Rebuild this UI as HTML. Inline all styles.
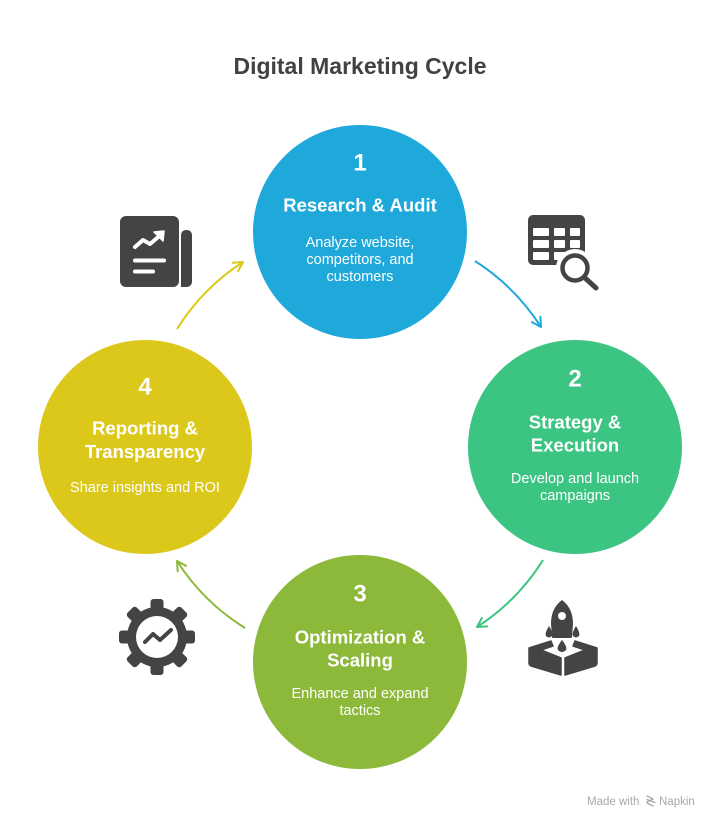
<!DOCTYPE html>
<html>
<head>
<meta charset="utf-8">
<style>
  html,body{margin:0;padding:0;background:#fff;}
  body{width:720px;height:828px;overflow:hidden;}
  svg{display:block;}
  text{font-family:"Liberation Sans", Arial, sans-serif;}
</style>
</head>
<body>
<svg width="720" height="828" viewBox="0 0 720 828" xmlns="http://www.w3.org/2000/svg">
  <defs>
    <marker id="mb" viewBox="0 0 12 12" refX="10" refY="6" markerWidth="12" markerHeight="12" markerUnits="userSpaceOnUse" orient="auto">
      <path d="M1,1 L10,6 L1,11" fill="none" stroke="#1FA9DA" stroke-width="2" stroke-linecap="round" stroke-linejoin="round"/>
    </marker>
    <marker id="mg" viewBox="0 0 12 12" refX="10" refY="6" markerWidth="12" markerHeight="12" markerUnits="userSpaceOnUse" orient="auto">
      <path d="M1,1 L10,6 L1,11" fill="none" stroke="#3CC483" stroke-width="2" stroke-linecap="round" stroke-linejoin="round"/>
    </marker>
    <marker id="mo" viewBox="0 0 12 12" refX="10" refY="6" markerWidth="12" markerHeight="12" markerUnits="userSpaceOnUse" orient="auto">
      <path d="M1,1 L10,6 L1,11" fill="none" stroke="#8CB93A" stroke-width="2" stroke-linecap="round" stroke-linejoin="round"/>
    </marker>
    <marker id="my" viewBox="0 0 12 12" refX="10" refY="6" markerWidth="12" markerHeight="12" markerUnits="userSpaceOnUse" orient="auto">
      <path d="M1,1 L10,6 L1,11" fill="none" stroke="#DCC81A" stroke-width="2" stroke-linecap="round" stroke-linejoin="round"/>
    </marker>
  </defs>

  <!-- Title -->
  <text x="360" y="74" text-anchor="middle" font-size="23" font-weight="bold" fill="#424242">Digital Marketing Cycle</text>

  <!-- Circles -->
  <circle cx="360" cy="232" r="107" fill="#1FA9DA"/>
  <circle cx="575" cy="447" r="107" fill="#3CC483"/>
  <circle cx="360" cy="662" r="107" fill="#8CB93A"/>
  <circle cx="145" cy="447" r="107" fill="#DCC81A"/>

  <!-- Arrows -->
  <path d="M475,261 A217,217 0 0 1 541,327" fill="none" stroke="#1FA9DA" stroke-width="2" marker-end="url(#mb)"/>
  <path d="M543,560 A216,216 0 0 1 477,627" fill="none" stroke="#3CC483" stroke-width="2" marker-end="url(#mg)"/>
  <path d="M245,628 A216,216 0 0 1 177,561" fill="none" stroke="#8CB93A" stroke-width="2" marker-end="url(#mo)"/>
  <path d="M177,329 A217,217 0 0 1 243,262" fill="none" stroke="#DCC81A" stroke-width="2" marker-end="url(#my)"/>

  <!-- Circle 1 text -->
  <g fill="#fff" text-anchor="middle">
    <text x="360" y="170.5" font-size="24" font-weight="bold">1</text>
    <text x="360" y="211.5" font-size="18.5" font-weight="bold">Research &amp; Audit</text>
    <text x="360" y="247" font-size="14.5">Analyze website,</text>
    <text x="360" y="264" font-size="14.5">competitors, and</text>
    <text x="360" y="281" font-size="14.5">customers</text>
  </g>
  <!-- Circle 2 text -->
  <g fill="#fff" text-anchor="middle">
    <text x="575" y="386.5" font-size="24" font-weight="bold">2</text>
    <text x="575" y="428.5" font-size="18.5" font-weight="bold">Strategy &amp;</text>
    <text x="575" y="451.5" font-size="18.5" font-weight="bold">Execution</text>
    <text x="575" y="483" font-size="14.5">Develop and launch</text>
    <text x="575" y="500" font-size="14.5">campaigns</text>
  </g>
  <!-- Circle 3 text -->
  <g fill="#fff" text-anchor="middle">
    <text x="360" y="601.5" font-size="24" font-weight="bold">3</text>
    <text x="360" y="643.5" font-size="18.5" font-weight="bold">Optimization &amp;</text>
    <text x="360" y="666.5" font-size="18.5" font-weight="bold">Scaling</text>
    <text x="360" y="698" font-size="14.5">Enhance and expand</text>
    <text x="360" y="715" font-size="14.5">tactics</text>
  </g>
  <!-- Circle 4 text -->
  <g fill="#fff" text-anchor="middle">
    <text x="145" y="394.5" font-size="24" font-weight="bold">4</text>
    <text x="145" y="434.5" font-size="18.5" font-weight="bold">Reporting &amp;</text>
    <text x="145" y="458" font-size="18.5" font-weight="bold">Transparency</text>
    <text x="145" y="492" font-size="14.5">Share insights and ROI</text>
  </g>

  <!-- Report icon -->
  <g>
    <rect x="120" y="216" width="59" height="71" rx="6" fill="#444"/>
    <path d="M181,236 Q181,230 186.5,230 Q192,230 192,236 L192,281 Q192,287 186,287 L181,287 Z" fill="#444"/>
    <polyline points="135,247 143,240 150,244 160,235.5" fill="none" stroke="#fff" stroke-width="4" stroke-linecap="round" stroke-linejoin="round"/>
    <polygon points="164,231 154,232 163,241" fill="#fff" stroke="#fff" stroke-width="1.5" stroke-linejoin="round"/>
    <line x1="135" y1="260.5" x2="164" y2="260.5" stroke="#fff" stroke-width="4" stroke-linecap="round"/>
    <line x1="135" y1="271.5" x2="153" y2="271.5" stroke="#fff" stroke-width="4" stroke-linecap="round"/>
  </g>

  <!-- Table search icon -->
  <g>
    <rect x="528" y="215" width="57" height="50" rx="5" fill="#444"/>
    <g fill="#fff">
      <rect x="533" y="228" width="16" height="8" rx="1"/>
      <rect x="554" y="228" width="11" height="8" rx="1"/>
      <rect x="570" y="228" width="10" height="8" rx="1"/>
      <rect x="533" y="240" width="16" height="8" rx="1"/>
      <rect x="554" y="240" width="11" height="8" rx="1"/>
      <rect x="570" y="240" width="10" height="8" rx="1"/>
      <rect x="533" y="252" width="16" height="8" rx="1"/>
      <rect x="554" y="252" width="11" height="8" rx="1"/>
      <rect x="570" y="252" width="10" height="8" rx="1"/>
    </g>
    <circle cx="575" cy="268" r="19" fill="#fff"/>
    <circle cx="575" cy="268" r="12.5" fill="#fff" stroke="#444" stroke-width="4.5"/>
    <line x1="584.5" y1="277.5" x2="596" y2="288" stroke="#444" stroke-width="5" stroke-linecap="round"/>
  </g>

  <!-- Gear icon -->
  <g transform="translate(157,637)">
    <g fill="#444">
      <rect x="-6.5" y="-38" width="13" height="76" rx="3"/>
      <rect x="-6.5" y="-38" width="13" height="76" rx="3" transform="rotate(45)"/>
      <rect x="-6.5" y="-38" width="13" height="76" rx="3" transform="rotate(90)"/>
      <rect x="-6.5" y="-38" width="13" height="76" rx="3" transform="rotate(135)"/>
      <circle r="30"/>
    </g>
    <circle r="21" fill="#fff"/>
    <polyline points="-12,5 -4,-3 3,3 14,-7" fill="none" stroke="#444" stroke-width="4" stroke-linecap="round" stroke-linejoin="round"/>
  </g>

  <!-- Rocket icon -->
  <g fill="#444">
    <path d="M562,600 C570,606 573,614 573,624 L572,637 Q572,638 571,638 L553,638 Q552,638 552,637 L551,624 C551,614 554,606 562,600 Z"/>
    <circle cx="562" cy="616" r="4" fill="#fff"/>
    <path d="M549,626 C546,631 545,634 546,636 Q549,639 552,636 C553,634 552,631 549,626 Z"/>
    <path d="M576,626 C573,631 572,634 573,636 Q576,639 579,636 C580,634 579,631 576,626 Z"/>
    <path d="M562,640 C558,645 557,648 558,650 Q562,654 566,650 C567,648 566,645 562,640 Z"/>
    <path d="M529,648 L551,641 L553,646 L541,650 L561,658 L561,675 L531,666 Q529,665 529,663 Z" stroke="#444" stroke-width="1.5" stroke-linejoin="round"/>
    <path d="M597,648 L575,641 L573,646 L585,650 L565,658 L565,675 L595,666 Q597,665 597,663 Z" stroke="#444" stroke-width="1.5" stroke-linejoin="round"/>
  </g>

  <!-- Made with Napkin -->
  <text x="587" y="805" font-size="11.5" fill="#a8a8a8">Made with</text>
  <g fill="none" stroke="#a8a8a8" stroke-width="1.3" stroke-linecap="round">
    <line x1="647" y1="796" x2="653" y2="799"/>
    <line x1="647" y1="799.5" x2="655" y2="802.5"/>
    <line x1="647" y1="803" x2="653" y2="806"/>
    <line x1="653" y1="799" x2="647" y2="802"/>
  </g>
  <text x="659" y="805" font-size="11.5" fill="#a8a8a8">Napkin</text>
</svg>
</body>
</html>
